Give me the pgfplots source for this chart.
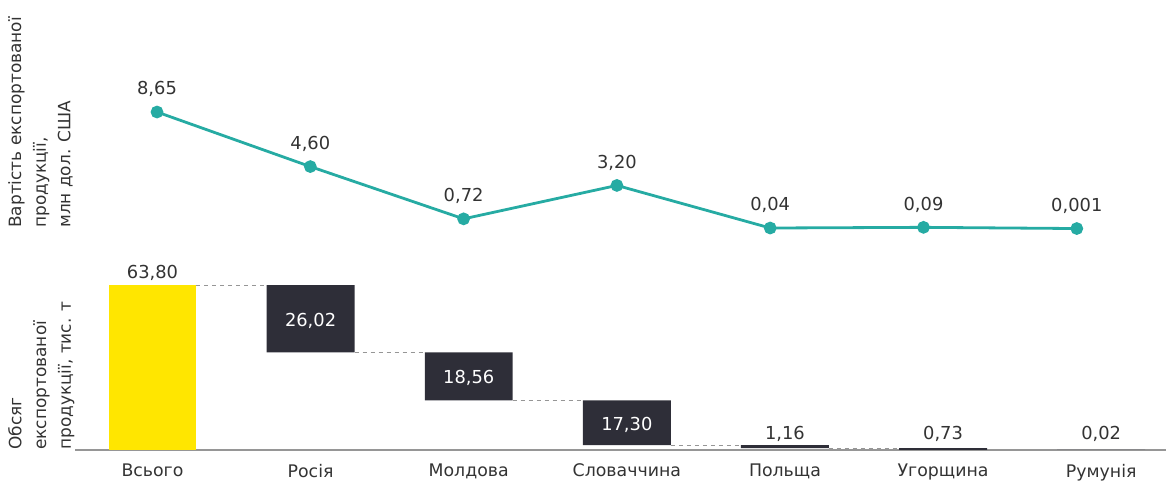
\documentclass[border=0pt]{standalone}
\usepackage{pgfplots}
\pgfplotsset{compat=1.18}
\usepackage{fontspec}
\setmainfont{DejaVu Sans}
\definecolor{teal1}{RGB}{38,171,163}
\definecolor{eyyellow}{RGB}{255,230,0}
\definecolor{eydark}{RGB}{46,46,56}
\definecolor{txt}{RGB}{51,51,51}
\definecolor{axgray}{RGB}{150,150,150}
\newcommand{\lblfont}{\fontsize{12.7}{18.5}\selectfont}
\newcommand{\numfont}{\fontsize{13.4}{16}\selectfont}
\newcommand{\catfont}{\fontsize{13}{16}\selectfont}
\begin{document}
\begin{tikzpicture}
\useasboundingbox (0pt,0pt) rectangle (874.5pt,360pt);
% ---------- top: value line ----------
\begin{axis}[at={(56.25pt,180pt)}, anchor=south west, scale only axis,
  width=818.25pt, height=135pt,
  xmin=-0.535, xmax=6.582, ymin=-0.85, ymax=12.51,
  hide axis, clip=false]
\addplot[teal1, line width=2.1pt, mark=*, mark size=3.7pt,
  nodes near coords, point meta=explicit symbolic,
  every node near coord/.append style={font=\numfont, text=txt, yshift=7pt}]
  table[meta=label] {
x y label
0 8.65 8,65
1 4.60 4,60
2 0.72 0,72
3 3.20 3,20
4 0.04 0,04
5 0.09 0,09
6 0.001 0,001
};
\end{axis}
% ---------- bottom: waterfall ----------
\begin{axis}[at={(56.25pt,22.5pt)}, anchor=south west, scale only axis,
  width=818.25pt, height=142.5pt,
  xmin=-0.49, xmax=6.41, ymin=0, ymax=73.47,
  ybar stacked, bar width=0.556,
  axis x line=bottom, axis y line=none,
  x axis line style={draw=axgray, line width=1.5pt, -},
  xtick={0,...,6},
  xticklabels={Всього,Росія,Молдова,Словаччина,Польща,Угорщина,Румунія},
  major tick length=0pt, ytick=\empty,
  xticklabel style={font=\catfont, text=txt, yshift=-7pt},
  clip=false]
\addplot[draw=none, fill=none] coordinates {(0,0) (1,37.78) (2,19.22) (3,1.92) (4,0.76) (5,0.03) (6,0.01)};
\addplot[draw=none, fill=eyyellow] coordinates {(0,63.80) (1,0) (2,0) (3,0) (4,0) (5,0) (6,0)};
\addplot[draw=none, fill=eydark] coordinates {(0,0) (1,26.02) (2,18.56) (3,17.30) (4,1.16) (5,0.73) (6,0.02)};
\end{axis}
% ---------- connectors and labels ----------
\begin{axis}[at={(56.25pt,22.5pt)}, anchor=south west, scale only axis,
  width=818.25pt, height=142.5pt,
  xmin=-0.49, xmax=6.41, ymin=0, ymax=73.47,
  hide axis, clip=false]
\addplot[axgray, dashed, line width=0.5pt] coordinates {(0.278,63.80) (0.722,63.80)};
\addplot[axgray, dashed, line width=0.5pt] coordinates {(1.278,37.78) (1.722,37.78)};
\addplot[axgray, dashed, line width=0.5pt] coordinates {(2.278,19.22) (2.722,19.22)};
\addplot[axgray, dashed, line width=0.5pt] coordinates {(3.278,1.92) (3.722,1.92)};
\addplot[axgray, dashed, line width=0.5pt] coordinates {(4.278,0.76) (4.722,0.76)};
\addplot[axgray, dashed, line width=0.5pt] coordinates {(5.278,0.03) (5.722,0.03)};
\node[anchor=base, font=\numfont, text=txt, yshift=4.9pt] at (axis cs:0,63.80) {63,80};
\node[anchor=mid, font=\numfont, text=white, yshift=-3pt] at (axis cs:1,50.79) {26,02};
\node[anchor=mid, font=\numfont, text=white, yshift=-3pt] at (axis cs:2,28.50) {18,56};
\node[anchor=mid, font=\numfont, text=white, yshift=-3pt] at (axis cs:3,10.57) {17,30};
\node[anchor=base, font=\numfont, text=txt, yshift=8pt] at (axis cs:4,0) {1,16};
\node[anchor=base, font=\numfont, text=txt, yshift=8pt] at (axis cs:5,0) {0,73};
\node[anchor=base, font=\numfont, text=txt, yshift=8pt] at (axis cs:6,0) {0,02};
\end{axis}
% ---------- y labels ----------
\node[rotate=90, anchor=north west, align=left, inner sep=0pt, font=\lblfont, text=txt]
  at (6pt,189pt) {Вартість експортованої\\продукції,\\млн дол. США};
\node[rotate=90, anchor=north west, align=left, inner sep=0pt, font=\lblfont, text=txt]
  at (6pt,22.5pt) {Обсяг\\експортованої\\продукції, тис. т};
\end{tikzpicture}
\end{document}
